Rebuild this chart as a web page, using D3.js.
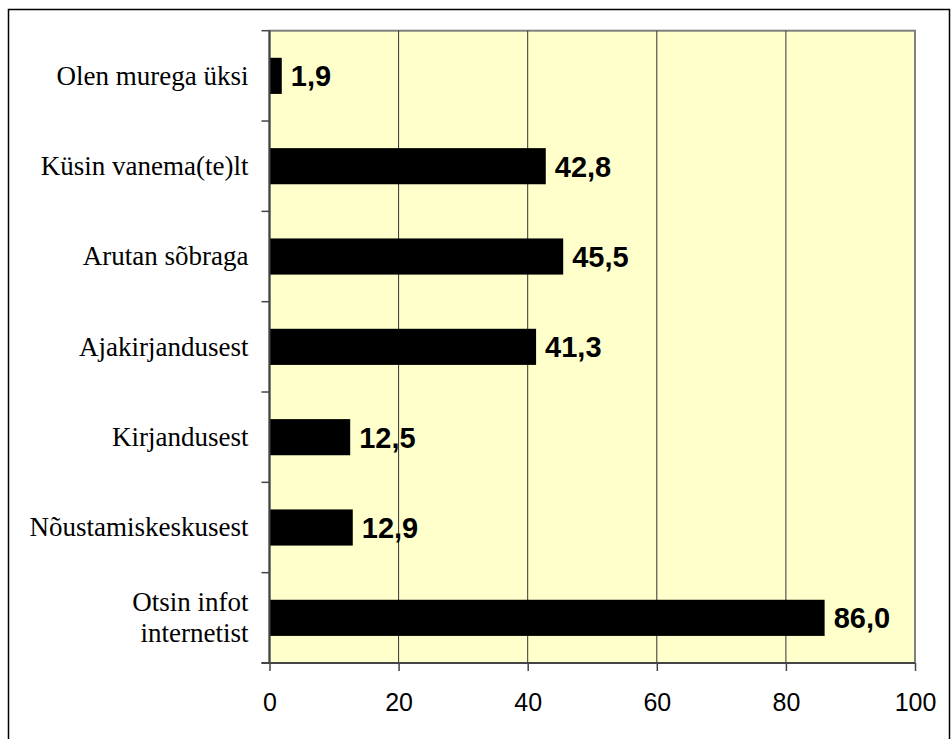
<!DOCTYPE html>
<html>
  <head>
    <meta charset="utf-8">
    <script src="https://d3js.org/d3.v7.min.js"></script>
    <style>
      body { margin: 0; background: white; }
      svg { display: block; }
    </style>
  </head>
  <body>
    <script>
      // data, top to bottom
      const categories = ['Olen murega üksi', 'Küsin vanema(te)lt', 'Arutan sõbraga',
                          'Ajakirjandusest', 'Kirjandusest', 'Nõustamiskeskusest',
                          'Otsin infot\ninternetist'];
      const values = [1.9, 42.8, 45.5, 41.3, 12.5, 12.9, 86.0];
      const xTicks = [0, 20, 40, 60, 80, 100];

      const w = 951;
      const h = 739;
      const plotL = 269.5, plotR = 915, plotT = 30.7, plotB = 663;

      const svg = d3.select('body').append('svg')
                    .attr('width', w)
                    .attr('height', h);

      // outer frame (right/bottom run off the picture)
      svg.append('rect')
         .attr('x', 8.5).attr('y', 9.5)
         .attr('width', 941).attr('height', 740)
         .attr('fill', 'none').attr('stroke', 'black').attr('stroke-width', 1.5);

      const xScale = d3.scaleLinear().domain([0, 100]).range([plotL, plotR]);
      const yScale = d3.scaleBand().domain(categories).range([plotT, plotB])
                       .paddingInner(0.6).paddingOuter(0.3);
      const band = (plotB - plotT) / categories.length;

      svg.append('rect')
         .attr('x', plotL).attr('y', plotT)
         .attr('width', plotR - plotL).attr('height', plotB - plotT)
         .attr('fill', '#FFFFCC').attr('stroke', '#808080').attr('stroke-width', 2);

      // gridlines
      svg.selectAll('.grid')
         .data(xTicks.slice(1, -1))
         .enter().append('line')
         .attr('x1', d => xScale(d)).attr('x2', d => xScale(d))
         .attr('y1', plotT).attr('y2', plotB)
         .attr('stroke', '#333').attr('stroke-width', 1);

      // bars
      svg.selectAll('.bar')
         .data(values)
         .enter().append('rect')
         .attr('x', xScale(0))
         .attr('y', (d, i) => yScale(categories[i]))
         .attr('width', d => xScale(d) - xScale(0))
         .attr('height', yScale.bandwidth())
         .attr('fill', 'black');

      // value labels
      svg.selectAll('.val')
         .data(values)
         .enter().append('text')
         .attr('x', d => xScale(d) + 9)
         .attr('y', (d, i) => yScale(categories[i]) + yScale.bandwidth() / 2)
         .attr('dy', '0.36em')
         .attr('font-family', 'Liberation Sans, Arial, sans-serif')
         .attr('font-weight', 'bold')
         .attr('font-size', 29)
         .text(d => d.toFixed(1).replace('.', ','));

      // y axis: line + ticks at category boundaries
      svg.append('line')
         .attr('x1', plotL).attr('x2', plotL)
         .attr('y1', plotT).attr('y2', plotB)
         .attr('stroke', '#444').attr('stroke-width', 2);
      svg.selectAll('.ytick')
         .data(d3.range(categories.length + 1))
         .enter().append('line')
         .attr('x1', plotL - 8).attr('x2', plotL)
         .attr('y1', i => plotT + i * band).attr('y2', i => plotT + i * band)
         .attr('stroke', '#444').attr('stroke-width', 1.5);

      // category labels
      const cat = svg.selectAll('.cat')
         .data(categories)
         .enter().append('text')
         .attr('text-anchor', 'end')
         .attr('font-family', 'Liberation Serif, Times New Roman, serif')
         .attr('font-size', 27)
         .attr('fill', 'black');
      cat.each(function(d) {
        const lines = d.split('\n');
        const cy = yScale(d) + yScale.bandwidth() / 2;
        lines.forEach((l, k) => {
          d3.select(this).append('tspan')
            .attr('x', plotL - 21)
            .attr('y', cy + (k - (lines.length - 1) / 2) * 31)
            .attr('dy', '0.33em')
            .text(l);
        });
      });

      // x axis
      const xAxis = d3.axisBottom(xScale).tickValues(xTicks).tickSize(8).tickPadding(22);
      const gx = svg.append('g')
         .attr('transform', `translate(0, ${plotB})`)
         .call(xAxis);
      gx.select('.domain').attr('stroke', '#444').attr('stroke-width', 2)
        .attr('d', `M${plotL - 8},0H${plotR}`);
      gx.selectAll('.tick line').attr('stroke', '#444').attr('stroke-width', 1.5);
      gx.selectAll('.tick text')
        .attr('font-family', 'Liberation Sans, Arial, sans-serif')
        .attr('font-size', 25)
        .attr('fill', 'black');
    </script>
  </body>
</html>
